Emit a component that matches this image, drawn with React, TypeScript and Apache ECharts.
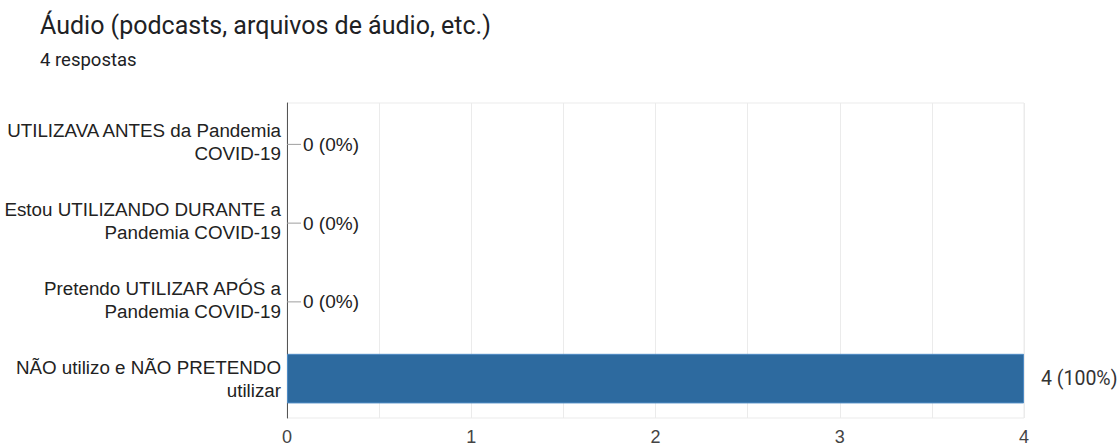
import React, { useEffect, useRef } from "react";
import * as echarts from "echarts";

const titleText = "Áudio (podcasts, arquivos de áudio, etc.)";
const subtitleText = "4 respostas";
const categories = [
  "UTILIZAVA ANTES da Pandemia\nCOVID-19",
  "Estou UTILIZANDO DURANTE a\nPandemia COVID-19",
  "Pretendo UTILIZAR APÓS a\nPandemia COVID-19",
  "NÃO utilizo e NÃO PRETENDO\nutilizar",
];
const values = [0, 0, 0, 4];
const percents = ["0%", "0%", "0%", "100%"];
const xTicks = [0, 1, 2, 3, 4];

export default function App() {
  const ref = useRef<HTMLDivElement>(null);
  useEffect(() => {
    document.body.style.margin = "0";
    const chart = echarts.init(ref.current!, null, { renderer: "svg" });
    chart.setOption({
      animation: false,
      backgroundColor: "#ffffff",
      title: [
        {
          text: titleText,
          left: 40,
          top: 13,
          padding: 0,
          textStyle: { fontFamily: "Roboto", fontSize: 25, fontWeight: "normal", color: "#202124" },
        },
        {
          text: subtitleText,
          left: 40,
          top: 50,
          padding: 0,
          textStyle: { fontFamily: "Roboto", fontSize: 18.5, fontWeight: "normal", color: "#202124" },
        },
      ],
      grid: {
        left: 287,
        right: 96,
        top: 103,
        bottom: 27,
        show: true,
        borderColor: "#ebebeb",
        borderWidth: 1,
      },
      xAxis: {
        type: "value",
        min: 0,
        max: 4,
        interval: 0.5,
        axisLine: { show: false },
        axisTick: { show: false },
        splitLine: { show: true, lineStyle: { color: "#ebebeb", width: 1 } },
        axisLabel: {
          margin: 10,
          fontFamily: "Liberation Sans",
          fontSize: 18,
          color: "#444444",
          formatter: (v: number) => (xTicks.includes(v) ? String(v) : ""),
        },
      },
      yAxis: {
        type: "category",
        inverse: true,
        data: categories,
        axisLine: { show: true, lineStyle: { color: "#555555", width: 1 } },
        axisTick: { show: false },
        axisLabel: {
          margin: 6,
          fontFamily: "Liberation Sans",
          fontSize: 18.8,
          lineHeight: 23,
          color: "#222222",
          align: "right",
          padding: [4, 0, 0, 0],
        },
      },
      series: [
        {
          type: "bar",
          data: values.map((v, i) => ({
            value: v,
            itemStyle: v === 0 ? { borderWidth: 0 } : { borderColor: "#4f8bc4", borderWidth: 1 },
            label:
              v === 0
                ? {
                    show: true,
                    position: "insideLeft",
                    offset: [-5, 2],
                    formatter: "{l|}{t|" + v + " (" + percents[i] + ")}",
                  }
                : {
                    show: true,
                    position: "right",
                    distance: 17,
                    formatter: "{r|" + v + " (" + percents[i] + ")}",
                  },
          })),
          barWidth: "63%",
          itemStyle: { color: "#2d6a9f" },
          label: {
            rich: {
              l: { width: 14, height: 1, backgroundColor: "#9e9e9e" },
              t: {
                fontFamily: "Liberation Sans",
                fontSize: 19,
                color: "#222222",
                padding: [0, 0, 0, 2],
              },
              r: {
                fontFamily: "Roboto",
                fontSize: 19.5,
                color: "#333333",
              },
            },
          },
        },
      ],
    });
    return () => chart.dispose();
  }, []);
  return <div ref={ref} style={{ width: 1120, height: 446 }} />;
}
